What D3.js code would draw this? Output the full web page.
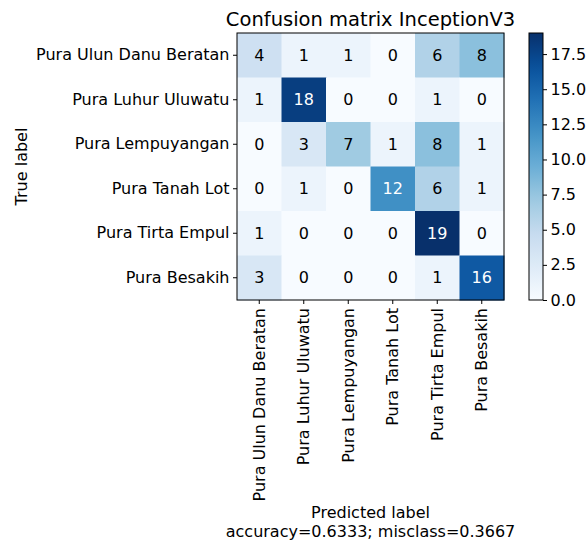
<!DOCTYPE html>
<html>
<head>
<meta charset="utf-8">
<script src="https://cdn.jsdelivr.net/npm/d3@7"></script>
<style>
  body { margin: 0; background: #fff; overflow: hidden; }
  text { font-family: "DejaVu Sans", sans-serif; fill: #000; }
</style>
</head>
<body>
<svg width="587" height="541"></svg>
<script>
const classes = ["Pura Ulun Danu Beratan", "Pura Luhur Uluwatu", "Pura Lempuyangan",
                 "Pura Tanah Lot", "Pura Tirta Empul", "Pura Besakih"];
const matrix = [
  [4, 1, 1, 0, 6, 8],
  [1, 18, 0, 0, 1, 0],
  [0, 3, 7, 1, 8, 1],
  [0, 1, 0, 12, 6, 1],
  [1, 0, 0, 0, 19, 0],
  [3, 0, 0, 0, 1, 16]
];
const cbTicks = [0, 2.5, 5, 7.5, 10, 12.5, 15, 17.5];
const title = "Confusion matrix InceptionV3";
const accuracy = 0.6333, misclass = 0.3667;

const svg = d3.select("svg");
const mLeft = 237, mTop = 33, size = 267;
const fs = "16px";

const maxV = d3.max(matrix.flat());
const blues = ["#f7fbff","#deebf7","#c6dbef","#9ecae1","#6baed6","#4292c6","#2171b5","#08519c","#08306b"];
const color = d3.scaleLinear()
  .domain(blues.map((c, i) => i / (blues.length - 1) * maxV))
  .range(blues)
  .interpolate(d3.interpolateRgb);

const x = d3.scaleBand().domain(d3.range(classes.length)).range([mLeft, mLeft + size]);
const y = d3.scaleBand().domain(d3.range(classes.length)).range([mTop, mTop + size]);

const cells = matrix.flatMap((row, i) => row.map((v, j) => ({i, j, v})));

svg.append("g").selectAll("rect")
  .data(cells).enter().append("rect")
  .attr("x", d => x(d.j)).attr("y", d => y(d.i))
  .attr("width", x.bandwidth() + 0.5).attr("height", y.bandwidth() + 0.5)
  .attr("fill", d => color(d.v));

svg.append("g").selectAll("text")
  .data(cells).enter().append("text")
  .attr("x", d => x(d.j) + x.bandwidth() / 2)
  .attr("y", d => y(d.i) + y.bandwidth() / 2)
  .attr("text-anchor", "middle").attr("dominant-baseline", "central")
  .style("font-size", fs)
  .style("fill", d => d.v > maxV / 2 ? "#fff" : "#000")
  .text(d => d.v);

svg.append("rect").attr("x", mLeft).attr("y", mTop).attr("width", size).attr("height", size)
  .attr("fill", "none").attr("stroke", "#000").attr("stroke-width", 1);

// axes
const yAxis = svg.append("g").attr("transform", `translate(${mLeft},0)`)
  .call(d3.axisLeft(y).tickSize(4).tickPadding(3.5).tickFormat(i => classes[i]));
yAxis.select(".domain").remove();
yAxis.selectAll("text").style("font-size", fs).attr("fill", "#000");

const xAxis = svg.append("g").attr("transform", `translate(0,${mTop + size})`)
  .call(d3.axisBottom(x).tickSize(4).tickPadding(3.5).tickFormat(i => classes[i]));
xAxis.select(".domain").remove();
xAxis.selectAll("text").style("font-size", fs).attr("fill", "#000")
  .attr("transform", "rotate(-90)")
  .attr("text-anchor", "end")
  .attr("x", -8).attr("y", 0).attr("dy", "0.35em");

svg.append("text").attr("x", mLeft + size / 2).attr("y", 26)
  .attr("text-anchor", "middle").style("font-size", "19.5px").text(title);

svg.append("text").attr("transform", `translate(27,${mTop + size / 2}) rotate(-90)`)
  .attr("text-anchor", "middle").style("font-size", fs).text("True label");

svg.append("text").attr("x", mLeft + size / 2).attr("y", 518)
  .attr("text-anchor", "middle").style("font-size", fs).text("Predicted label");
svg.append("text").attr("x", mLeft + size / 2).attr("y", 537)
  .attr("text-anchor", "middle").style("font-size", fs)
  .text(`accuracy=${accuracy.toFixed(4)}; misclass=${misclass.toFixed(4)}`);

// colorbar
const cbX = 529, cbW = 14;
const defs = svg.append("defs");
const grad = defs.append("linearGradient").attr("id", "cb")
  .attr("x1", 0).attr("y1", 1).attr("x2", 0).attr("y2", 0);
d3.range(0, 1.0001, 0.05).forEach(t => {
  grad.append("stop").attr("offset", t).attr("stop-color", color(t * maxV));
});
svg.append("rect").attr("x", cbX).attr("y", mTop).attr("width", cbW).attr("height", size)
  .attr("fill", "url(#cb)").attr("stroke", "#000").attr("stroke-width", 1);
const cbScale = d3.scaleLinear().domain([0, maxV]).range([mTop + size, mTop]);
const cbAxis = svg.append("g").attr("transform", `translate(${cbX + cbW},0)`)
  .call(d3.axisRight(cbScale).tickValues(cbTicks).tickSize(4).tickPadding(3.5)
    .tickFormat(d3.format(".1f")));
cbAxis.select(".domain").remove();
cbAxis.selectAll("text").style("font-size", fs).attr("fill", "#000");
</script>
</body>
</html>
